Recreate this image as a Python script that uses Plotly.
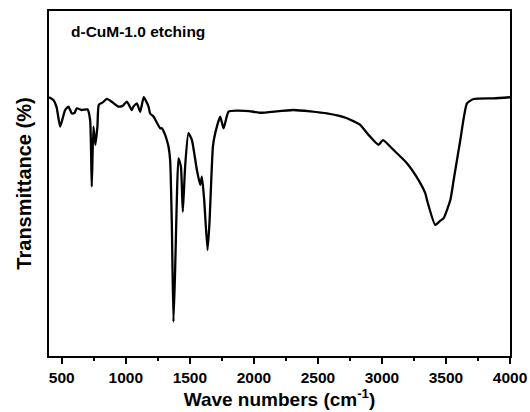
import plotly.graph_objects as go

wavenumber = [400, 434, 460, 487, 526, 552, 578, 600, 617, 656, 700, 721, 734, 747, 762, 778, 789,
              820, 851, 890, 942, 975, 1008, 1047, 1059, 1086, 1112, 1140, 1177, 1190, 1216, 1268,
              1281, 1307, 1320, 1333, 1346, 1359, 1372, 1385, 1398, 1411, 1430, 1445, 1463, 1489,
              1516, 1555, 1581, 1594, 1612, 1638, 1653, 1680, 1698, 1737, 1763, 1802, 1867, 1997,
              2049, 2309, 2570, 2727, 2830, 2895, 2973, 3008, 3091, 3195, 3286, 3338, 3352, 3416,
              3455, 3481, 3534, 3560, 3612, 3664, 3716, 3872, 4000]
transmittance = [75.0, 74.2, 72.0, 66.5, 71.3, 72.3, 70.3, 70.5, 71.8, 71.3, 71.5, 68.4, 49.1, 66.5,
                 61.2, 66.5, 72.8, 73.5, 74.5, 73.7, 72.3, 72.5, 73.7, 71.3, 72.3, 73.2, 70.8, 75.0,
                 72.3, 70.3, 69.4, 66.0, 66.0, 64.1, 62.6, 60.7, 56.8, 38.5, 9.9, 24.9, 45.0, 57.3,
                 54.9, 41.8, 54.9, 64.6, 62.6, 53.9, 49.6, 52.0, 45.2, 30.7, 38.5, 60.7, 64.6, 69.4,
                 66.0, 70.8, 71.1, 70.8, 70.5, 71.3, 70.3, 68.9, 67.0, 64.1, 61.2, 62.6, 59.7, 55.9,
                 51.0, 47.2, 45.2, 38.0, 39.2, 39.9, 45.2, 51.0, 62.6, 73.2, 74.5, 74.7, 75.0]

x_ticks = [500, 1000, 1500, 2000, 2500, 3000, 3500, 4000]
x_tick_labels = ["500", "1000", "1500", "2000", "2500", "3000", "3500", "4000"]
sample_label = "d-CuM-1.0 etching"

fig = go.Figure()
fig.add_trace(go.Scatter(x=wavenumber, y=transmittance, mode="lines",
                         line=dict(color="black", width=2.3, shape="spline", smoothing=0.5),
                         showlegend=False))

font = "Arial, Liberation Sans, sans-serif"
fig.update_layout(
    width=530, height=412,
    margin=dict(l=48.5, r=20, t=11, b=56, autoexpand=False),
    paper_bgcolor="white", plot_bgcolor="white",
    font=dict(family=font, color="black"),
    xaxis=dict(range=[400, 4000], tickvals=x_ticks, ticktext=x_tick_labels, automargin=False,
               ticks="outside", ticklen=6, tickwidth=2, tickcolor="black",
               minor=dict(dtick=250, tick0=250, ticks="outside", ticklen=3, tickwidth=2, tickcolor="black"),
               showline=True, linewidth=2, linecolor="black", mirror=True, showgrid=False, zeroline=False,
               tickfont=dict(size=15.5, family=font, weight="bold"),
               title=dict(text="Wave numbers (cm<sup>-1</sup>)", font=dict(size=19, family=font, weight="bold"),
                          standoff=4)),
    yaxis=dict(range=[0, 100], showticklabels=False, ticks="", automargin=False,
               showline=True, linewidth=2, linecolor="black", mirror=True, showgrid=False, zeroline=False,
               title=dict(text="Transmittance (%)", font=dict(size=20, family=font, weight="bold"),
                          standoff=10)),
    annotations=[dict(text=sample_label, xref="paper", yref="paper", x=0.043, y=0.94,
                      xanchor="left", yanchor="middle", showarrow=False,
                      font=dict(size=15.5, family=font, weight="bold", color="black"))],
)

fig.write_html("out.html")
